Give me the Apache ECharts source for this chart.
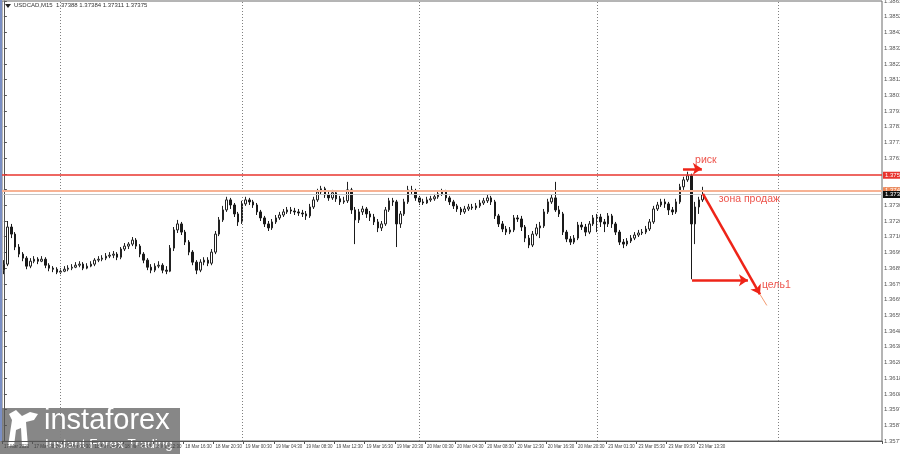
<!DOCTYPE html>
<html><head><meta charset="utf-8">
<script src="https://cdn.jsdelivr.net/npm/echarts@6/dist/echarts.min.js"></script>
<style>html,body{margin:0;padding:0;background:#fff}#c{width:900px;height:454px}</style>
</head><body><div id="c"></div>
<script>
const titleText = 'USDCAD,M15  1.37388 1.37384 1.37311 1.37375';
const opens = [
1.36884,1.36923,1.37164,1.37118,1.37034,1.36988,1.36962,1.36910,1.36942,1.36955,
1.36942,1.36955,1.36916,1.36897,1.36890,1.36871,1.36877,1.36890,1.36897,1.36903,
1.36916,1.36923,1.36897,1.36910,1.36923,1.36949,1.36955,1.36962,1.36975,1.36981,
1.36988,1.36968,1.37021,1.37040,1.37053,1.37079,1.37040,1.36988,1.36949,1.36903,
1.36884,1.36910,1.36916,1.36884,1.36877,1.37027,1.37145,1.37184,1.37131,1.37066,
1.37001,1.36936,1.36884,1.36936,1.36949,1.36929,1.37001,1.37118,1.37210,1.37275,
1.37340,1.37307,1.37249,1.37197,1.37314,1.37340,1.37327,1.37307,1.37262,1.37223,
1.37184,1.37158,1.37197,1.37223,1.37242,1.37262,1.37275,1.37268,1.37262,1.37255,
1.37249,1.37236,1.37294,1.37340,1.37392,1.37412,1.37373,1.37353,1.37386,1.37347,
1.37327,1.37334,1.37405,1.37275,1.37210,1.37262,1.37281,1.37249,1.37229,1.37197,
1.37158,1.37184,1.37275,1.37334,1.37327,1.37184,1.37249,1.37327,1.37405,1.37399,
1.37353,1.37327,1.37320,1.37340,1.37347,1.37360,1.37379,1.37392,1.37353,1.37327,
1.37301,1.37281,1.37262,1.37281,1.37294,1.37288,1.37301,1.37320,1.37334,1.37353,
1.37327,1.37236,1.37184,1.37151,1.37131,1.37145,1.37223,1.37216,1.37164,1.37092,
1.37047,1.37118,1.37158,1.37171,1.37262,1.37327,1.37353,1.37275,1.37249,1.37131,
1.37086,1.37066,1.37092,1.37177,1.37164,1.37131,1.37184,1.37223,1.37229,1.37197,
1.37184,1.37236,1.37184,1.37131,1.37066,1.37053,1.37073,1.37092,1.37112,1.37125,
1.37131,1.37151,1.37197,1.37281,1.37307,1.37327,1.37314,1.37275,1.37262,1.37327,
1.37425,1.37470,1.37497,1.37184,1.37294,1.37340];
const closes = [
1.36923,1.37164,1.37118,1.37034,1.36988,1.36962,1.36910,1.36942,1.36955,1.36942,
1.36955,1.36916,1.36897,1.36890,1.36871,1.36877,1.36890,1.36897,1.36903,1.36916,
1.36923,1.36897,1.36910,1.36923,1.36949,1.36955,1.36962,1.36975,1.36981,1.36988,
1.36968,1.37021,1.37040,1.37053,1.37079,1.37040,1.36988,1.36949,1.36903,1.36884,
1.36910,1.36916,1.36884,1.36877,1.37027,1.37145,1.37184,1.37131,1.37066,1.37001,
1.36936,1.36884,1.36936,1.36949,1.36929,1.37001,1.37118,1.37210,1.37275,1.37340,
1.37307,1.37249,1.37197,1.37314,1.37340,1.37327,1.37307,1.37262,1.37223,1.37184,
1.37158,1.37197,1.37223,1.37242,1.37262,1.37275,1.37268,1.37262,1.37255,1.37249,
1.37236,1.37294,1.37340,1.37392,1.37412,1.37373,1.37353,1.37386,1.37347,1.37327,
1.37334,1.37405,1.37275,1.37210,1.37262,1.37281,1.37249,1.37229,1.37197,1.37158,
1.37184,1.37275,1.37334,1.37327,1.37184,1.37249,1.37327,1.37405,1.37399,1.37353,
1.37327,1.37320,1.37340,1.37347,1.37360,1.37379,1.37392,1.37353,1.37327,1.37301,
1.37281,1.37262,1.37281,1.37294,1.37288,1.37301,1.37320,1.37334,1.37353,1.37327,
1.37236,1.37184,1.37151,1.37131,1.37145,1.37223,1.37216,1.37164,1.37092,1.37047,
1.37118,1.37158,1.37171,1.37262,1.37327,1.37353,1.37275,1.37249,1.37131,1.37086,
1.37066,1.37092,1.37177,1.37164,1.37131,1.37184,1.37223,1.37229,1.37197,1.37184,
1.37236,1.37184,1.37131,1.37066,1.37053,1.37073,1.37092,1.37112,1.37125,1.37131,
1.37151,1.37197,1.37281,1.37307,1.37327,1.37314,1.37275,1.37262,1.37327,1.37425,
1.37470,1.37497,1.37184,1.37294,1.37340,1.37375];
const highs = [
1.36949,1.37203,1.37184,1.37131,1.37053,1.37001,1.36975,1.36962,1.36975,1.36968,
1.36975,1.36968,1.36929,1.36910,1.36903,1.36897,1.36910,1.36916,1.36923,1.36936,
1.36942,1.36936,1.36929,1.36942,1.36962,1.36975,1.36981,1.36995,1.37001,1.37008,
1.37001,1.37034,1.37060,1.37066,1.37099,1.37092,1.37053,1.37001,1.36962,1.36923,
1.36929,1.36942,1.36929,1.36910,1.37047,1.37164,1.37210,1.37197,1.37145,1.37079,
1.37014,1.36949,1.36955,1.36968,1.36968,1.37021,1.37138,1.37229,1.37301,1.37360,
1.37353,1.37320,1.37262,1.37334,1.37360,1.37353,1.37340,1.37320,1.37275,1.37236,
1.37203,1.37216,1.37242,1.37262,1.37281,1.37294,1.37294,1.37288,1.37281,1.37275,
1.37268,1.37314,1.37360,1.37412,1.37431,1.37425,1.37392,1.37405,1.37399,1.37366,
1.37360,1.37457,1.37418,1.37294,1.37281,1.37301,1.37294,1.37268,1.37249,1.37216,
1.37203,1.37294,1.37353,1.37353,1.37340,1.37268,1.37347,1.37431,1.37431,1.37412,
1.37366,1.37347,1.37360,1.37366,1.37379,1.37399,1.37412,1.37405,1.37366,1.37340,
1.37314,1.37294,1.37301,1.37314,1.37314,1.37320,1.37340,1.37353,1.37373,1.37366,
1.37340,1.37249,1.37203,1.37171,1.37164,1.37242,1.37242,1.37236,1.37177,1.37112,
1.37138,1.37184,1.37197,1.37281,1.37347,1.37373,1.37457,1.37301,1.37262,1.37145,
1.37105,1.37112,1.37197,1.37197,1.37184,1.37203,1.37242,1.37249,1.37249,1.37216,
1.37255,1.37249,1.37197,1.37145,1.37086,1.37092,1.37112,1.37131,1.37145,1.37151,
1.37171,1.37216,1.37301,1.37327,1.37347,1.37347,1.37327,1.37294,1.37347,1.37444,
1.37490,1.37523,1.37510,1.37327,1.37360,1.37425];
const lows = [
1.36858,1.36910,1.37092,1.37014,1.36968,1.36942,1.36890,1.36897,1.36929,1.36923,
1.36936,1.36897,1.36877,1.36871,1.36858,1.36858,1.36871,1.36877,1.36884,1.36897,
1.36903,1.36884,1.36890,1.36903,1.36910,1.36936,1.36942,1.36949,1.36962,1.36962,
1.36949,1.36955,1.37008,1.37021,1.37040,1.37021,1.36968,1.36929,1.36884,1.36864,
1.36871,1.36897,1.36864,1.36858,1.36871,1.37008,1.37125,1.37112,1.37047,1.36981,
1.36916,1.36858,1.36871,1.36916,1.36910,1.36916,1.36988,1.37105,1.37197,1.37262,
1.37281,1.37229,1.37171,1.37184,1.37301,1.37307,1.37288,1.37242,1.37203,1.37164,
1.37138,1.37145,1.37184,1.37210,1.37229,1.37249,1.37249,1.37242,1.37236,1.37229,
1.37210,1.37223,1.37281,1.37327,1.37373,1.37353,1.37334,1.37340,1.37327,1.37307,
1.37314,1.37320,1.37249,1.37053,1.37190,1.37242,1.37223,1.37203,1.37177,1.37131,
1.37138,1.37171,1.37262,1.37301,1.37034,1.37158,1.37236,1.37314,1.37379,1.37334,
1.37307,1.37307,1.37314,1.37327,1.37334,1.37347,1.37366,1.37334,1.37307,1.37281,
1.37262,1.37242,1.37249,1.37268,1.37275,1.37275,1.37288,1.37307,1.37320,1.37307,
1.37216,1.37164,1.37131,1.37112,1.37118,1.37131,1.37197,1.37138,1.37066,1.37027,
1.37034,1.37105,1.37092,1.37158,1.37249,1.37314,1.37262,1.37229,1.37112,1.37066,
1.37047,1.37053,1.37079,1.37145,1.37105,1.37118,1.37171,1.37131,1.37164,1.37131,
1.37164,1.37158,1.37112,1.37047,1.37027,1.37040,1.37060,1.37079,1.37099,1.37112,
1.37118,1.37138,1.37184,1.37268,1.37294,1.37288,1.37242,1.37242,1.37249,1.37314,
1.37405,1.37457,1.36825,1.37053,1.37249,1.37327];

const slotCount = 233;
const tickIndex = [0,8,16,24,32,40,48,56,64,72,80,88,96,104,112,120,128,136,144,152,160,168,176,184];
const tickText = ['17 Mar 2020','17 Mar 20:30','18 Mar 00:30','18 Mar 04:30','18 Mar 08:30','18 Mar 12:30',
 '18 Mar 16:30','18 Mar 20:30','19 Mar 00:30','19 Mar 04:30','19 Mar 08:30','19 Mar 12:30','19 Mar 16:30',
 '19 Mar 20:30','20 Mar 00:30','20 Mar 04:30','20 Mar 08:30','20 Mar 12:30','20 Mar 16:30','20 Mar 20:30',
 '23 Mar 01:30','23 Mar 05:30','23 Mar 09:30','23 Mar 13:30'];
const yMin = 1.35775, yStep = 0.00102, yMax = 1.38631;
const dayLines = [15, 63, 110, 157, 205];
const levelValues = [1.37500, 1.37400, 1.37375];
const levelColors = ['#e8342e', '#f7b294', '#c4c4c4'];
const levelWidths = [1.5, 2, 1];
const levelTagBg = ['#e8342e', '#f08a5a', '#111111'];

const noteTexts = ['риск', 'зона продаж', 'цель1'];
const noteX = [183.0, 189.3, 200.7];
const noteY = [1.37601, 1.37347, 1.36786];
// arrows in bar-index / price units
const arrowStart = [[179.8, 1.37542], [182.2, 1.36819], [185.1, 1.37379]];
const arrowEnd   = [[184.8, 1.37542], [197.0, 1.36819], [200.2, 1.36727]];
const tailStart = [200.2, 1.36727], tailEnd = [202.0, 1.36655];

const categories = Array.from({length: slotCount}, (_, i) => String(i));
const candles = opens.map((o, i) => [o, closes[i], lows[i], highs[i]]);

const chart = echarts.init(document.getElementById('c'), null, {renderer: 'canvas'});

const levelMarks = levelValues.map((v, i) => [
  {coord: [-0.5, v], symbol: 'none',
   lineStyle: {color: levelColors[i], width: levelWidths[i], type: 'solid'},
   label: {show: true, position: 'end', distance: 1, formatter: v.toFixed(5), color: '#fff',
     backgroundColor: levelTagBg[i], padding: [1, 2, 0, 2], fontSize: 6, fontFamily: 'Liberation Sans'}},
  {coord: [slotCount - 0.5, v], symbol: 'none'}
]);
const dayMarks = dayLines.map(d => ({
  xAxis: String(d),
  lineStyle: {color: '#808080', width: 1, type: [1, 2]},
  label: {show: false}
}));

const arrowMarks = arrowStart.map((s, i) => [
  {coord: s, symbol: 'none', lineStyle: {color: '#ee2418', width: 2.5, type: 'solid'}, label: {show: false}},
  {coord: arrowEnd[i], symbol: 'arrow', symbolSize: 9}
]);
arrowMarks.push([
  {coord: tailStart, symbol: 'none', lineStyle: {color: '#f39a70', width: 1, type: 'solid'}, label: {show: false}},
  {coord: tailEnd, symbol: 'none'}
]);

chart.setOption({
  animation: false,
  backgroundColor: '#ffffff',
  grid: {left: 2, right: 18, top: 1, bottom: 13, containLabel: false, outerBoundsMode: 'none',
    show: true, borderColor: '#6a6a6a', borderWidth: 1},
  xAxis: [{
    type: 'category', data: categories, boundaryGap: true,
    axisLine: {show: true, lineStyle: {color: '#555', width: 1}},
    axisTick: {show: true, length: 3, interval: i => tickIndex.includes(i), lineStyle: {color: '#555'}},
    axisLabel: {show: true, interval: i => tickIndex.includes(i), align: 'left', margin: 3, hideOverlap: false,
      fontSize: 4.5, color: '#444', fontFamily: 'Liberation Sans',
      formatter: (v) => { const k = tickIndex.indexOf(Number(v)); return k >= 0 ? tickText[k] : ''; }},
    splitLine: {show: false}
  }, {
    type: 'value', min: -0.5, max: slotCount - 0.5, show: false
  }],
  yAxis: [{
    type: 'value', position: 'right', min: yMin, max: yMax, interval: yStep, scale: true,
    axisLine: {show: true, lineStyle: {color: '#555', width: 1}},
    axisTick: {show: true, length: 3, lineStyle: {color: '#555'}},
    axisLabel: {show: true, margin: 2, fontSize: 6, color: '#555', fontFamily: 'Liberation Sans',
      formatter: v => v.toFixed(5), showMinLabel: true, showMaxLabel: true},
    splitLine: {show: false}
  }],
  series: [{
    type: 'candlestick', xAxisIndex: 0, yAxisIndex: 0,
    data: candles, barWidth: 2,
    itemStyle: {color: '#ffffff', color0: '#1a1a1a', borderColor: '#222222', borderColor0: '#1a1a1a', borderWidth: 1},
    markLine: {silent: true, symbol: ['none', 'none'], animation: false, data: dayMarks}
  }, {
    type: 'scatter', xAxisIndex: 1, yAxisIndex: 0, symbolSize: 0, silent: true,
    data: noteTexts.map((t, i) => ({name: t, value: [noteX[i], noteY[i]]})),
    label: {show: true, position: 'right', distance: 0, formatter: '{b}', color: '#e8281e',
      fontSize: 10.5, fontFamily: 'Liberation Sans'},
    markLine: {silent: true, animation: false, symbolSize: 9, data: levelMarks.concat(arrowMarks)}
  }],
  graphic: [
    {type: 'line', shape: {x1: 1, y1: 0, x2: 1, y2: 441}, style: {stroke: '#7b8fc4', lineWidth: 2}, z: 100},
    {type: 'polygon', shape: {points: [[5, 4], [11, 4], [8, 8]]}, style: {fill: '#222'}, z: 100},
    {type: 'text', x: 14, y: 2, style: {text: titleText, fontSize: 6, fill: '#333', fontFamily: 'Liberation Sans'}, z: 100},
    {type: 'group', z: 100, children: [
      {type: 'rect', shape: {x: 0, y: 408, width: 180, height: 46}, style: {fill: 'rgba(118,118,118,0.88)'}},
      {type: 'polygon', shape: {points: [[8,446],[12,420],[9,414],[16,410],[22,416],[30,412],[38,414],[34,420],[26,422],[28,446],[22,446],[21,428],[16,430],[14,446]]}, style: {fill: '#ffffff'}},
      {type: 'text', x: 44, y: 406, style: {text: 'instaforex', fontSize: 29, fill: '#ffffff', fontFamily: 'Liberation Sans'}},
      {type: 'text', x: 45, y: 437, style: {text: 'Instant Forex Trading', fontSize: 13.5, fill: '#ffffff', fontFamily: 'Liberation Sans'}}
    ]}
  ]
});
</script>
</body></html>
